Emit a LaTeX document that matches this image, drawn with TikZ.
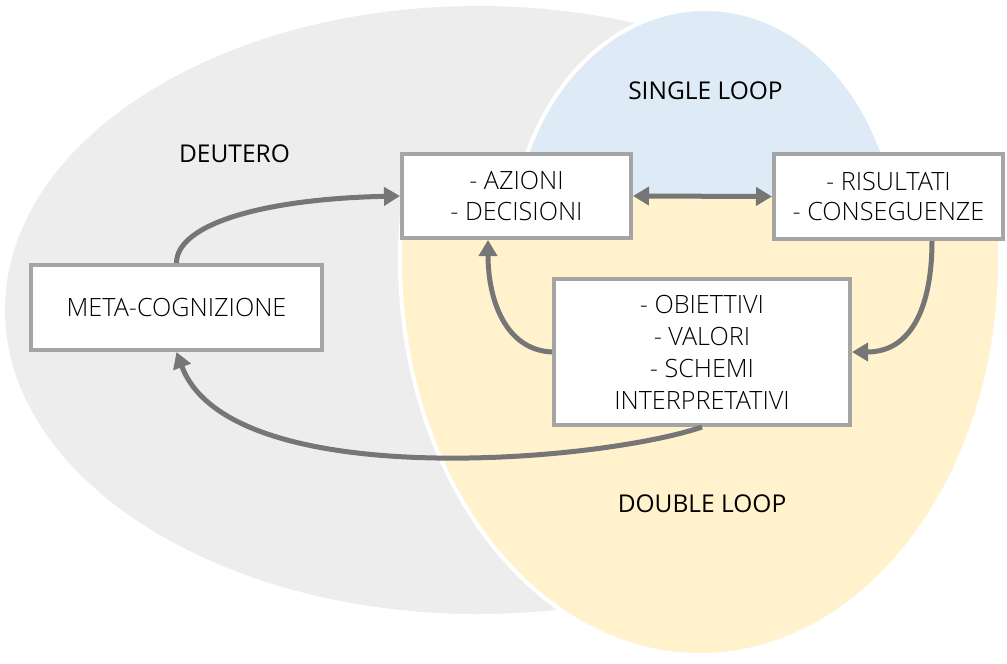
\documentclass[tikz,border=0pt]{standalone}
\usepackage{fontspec}
\setmainfont{Open Sans}
\newfontfamily\lightfont{Open Sans Light}
\usetikzlibrary{arrows.meta,calc}
\definecolor{grayfill}{HTML}{EDEDED}
\definecolor{bluefill}{HTML}{DEEAF6}
\definecolor{yellowfill}{HTML}{FFF2CC}
\definecolor{boxline}{HTML}{A5A5A5}
\definecolor{arrowgray}{HTML}{767676}
\begin{document}
\begin{tikzpicture}[x=1pt,y=-1pt,
  box/.style={draw=boxline, line width=4pt, fill=white, inner sep=0pt, align=center},
  boxtwo/.style={box, font=\lightfont\fontsize{25.2}{30.5}\selectfont},
  boxfour/.style={box, font=\lightfont\fontsize{25.2}{32}\selectfont},
  lbl/.style={font=\fontsize{24.5}{30}\selectfont, inner sep=0pt},
  conn/.style={draw=arrowgray, line width=5pt, -{Triangle[length=16pt,width=18pt]}},
  dconn/.style={draw=arrowgray, line width=5pt, {Triangle[length=16pt,width=18pt]}-{Triangle[length=16pt,width=18pt]}},
]
\useasboundingbox (0,0) rectangle (1007,664);
\fill[white] (0,0) rectangle (1007,664);
% background regions
\fill[grayfill] (478,310) ellipse [x radius=473pt, y radius=304pt];
\filldraw[fill=bluefill, draw=white, line width=4pt] (705,250) ellipse [x radius=194pt, y radius=241pt];
\begin{scope}
  \clip (0,197) rectangle (1007,664);
  \filldraw[fill=yellowfill, draw=white, line width=4pt] (700,260) ellipse [x radius=300pt, y radius=395pt];
\end{scope}
% labels
\node[lbl] (deutero) at (234.5,153.5) {DEUTERO};
\node[lbl] (single) at (705.5,90.5) {SINGLE LOOP};
\node[lbl] (double) at (702,504) {DOUBLE LOOP};
% boxes
\node[boxtwo, minimum width=229pt, minimum height=84pt] (azi) at (516.5,196) {- AZIONI\\- DECISIONI};
\node[boxtwo, minimum width=229pt, minimum height=85pt] (ris) at (888.5,196.5) {- RISULTATI\\- CONSEGUENZE};
\node[boxfour, minimum width=296pt, minimum height=146pt] (obi) at (702,352) {- OBIETTIVI\\- VALORI\\- SCHEMI\\INTERPRETATIVI};
\node[boxtwo, minimum width=291pt, minimum height=85pt] (meta) at (176.5,307.5) {META-COGNIZIONE};
% connectors
\draw[conn] (meta.north) .. controls +(0,-38) and +(-140,3) .. (azi.west);
\draw[conn] (obi.south) .. controls +(-102,35) and +(53,142) .. (meta.south);
\draw[conn] (obi.west) .. controls +(-47,-2) and +(0,59) .. ($(azi.south)+(-28.5,0)$);
\draw[conn] ($(ris.south)+(43.5,0)$) .. controls +(0,59) and +(63,0) .. (obi.east);
\draw[dconn] (azi.east) -- (ris.west);
\end{tikzpicture}
\end{document}
